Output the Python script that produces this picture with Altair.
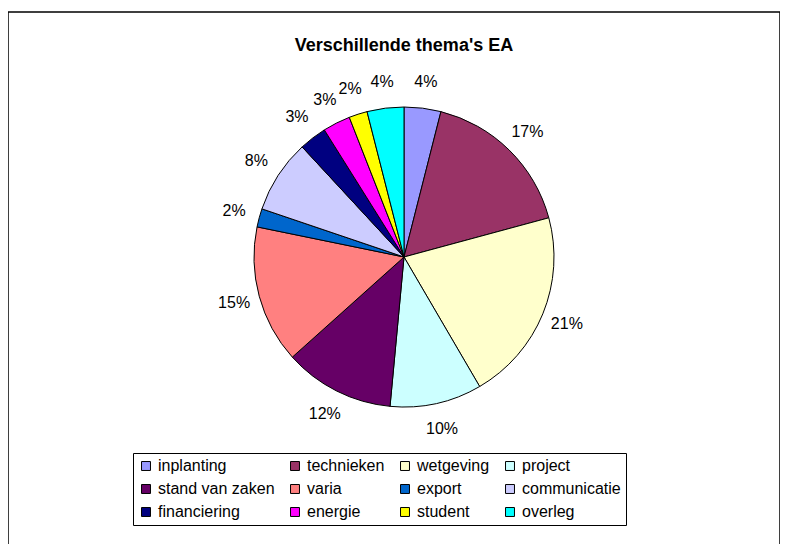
import altair as alt
import pandas as pd

title_text = "Verschillende thema's EA"
categories = ["inplanting", "technieken", "wetgeving", "project",
              "stand van zaken", "varia", "export", "communicatie",
              "financiering", "energie", "student", "overleg"]
values = [4, 17, 21, 10, 12, 15, 2, 8, 3, 3, 2, 4]
labels = ["4%", "17%", "21%", "10%", "12%", "15%", "2%", "8%", "3%", "3%", "2%", "4%"]
colors = ["#9999FF", "#993366", "#FFFFCC", "#CCFFFF", "#660066", "#FF8080",
          "#0066CC", "#CCCCFF", "#000080", "#FF00FF", "#FFFF00", "#00FFFF"]

df = pd.DataFrame({
    "cat": categories,
    "val": values,
    "lab": labels,
    "idx": list(range(len(categories))),
})

FONT = "Liberation Sans"
CX, CY = 396, 245

base = alt.Chart(df).encode(
    theta=alt.Theta("val:Q", stack=True),
    order=alt.Order("idx:Q"),
)

pie = base.mark_arc(radius=150, stroke="black", strokeWidth=1).encode(
    x=alt.value(CX), y=alt.value(CY),
    color=alt.Color(
        "cat:N",
        scale=alt.Scale(domain=categories, range=colors),
        sort=categories,
        legend=alt.Legend(
            title=None, orient="none", legendX=125, legendY=441,
            columns=4, direction="horizontal",
            symbolType="square", symbolSize=80, symbolStrokeColor="black",
            symbolStrokeWidth=1, symbolOpacity=1,
            labelFont=FONT, labelFontSize=16, labelColor="black",
            rowPadding=7, columnPadding=12, labelLimit=200, labelOffset=4,
            strokeColor="black", padding=5, gridAlign="each",
        ),
    ),
)

text = base.mark_text(radius=176, font=FONT, fontSize=16, color="black").encode(
    x=alt.value(CX), y=alt.value(CY), text="lab:N",
)

title = alt.Chart(pd.DataFrame({"t": [title_text]})).mark_text(
    font=FONT, fontSize=18, fontWeight="bold", color="black"
).encode(text="t:N", x=alt.value(396), y=alt.value(34))

chart = alt.layer(pie, text, title).properties(
    width=772, height=540,
    background="white",
    autosize=alt.AutoSizeParams(type="none"),
    padding={"left": 0, "top": 4, "right": 0, "bottom": 0},
).configure_view(stroke="black", strokeWidth=1.5)

chart.save("out.html", embed_options={"renderer": "svg", "actions": False})
